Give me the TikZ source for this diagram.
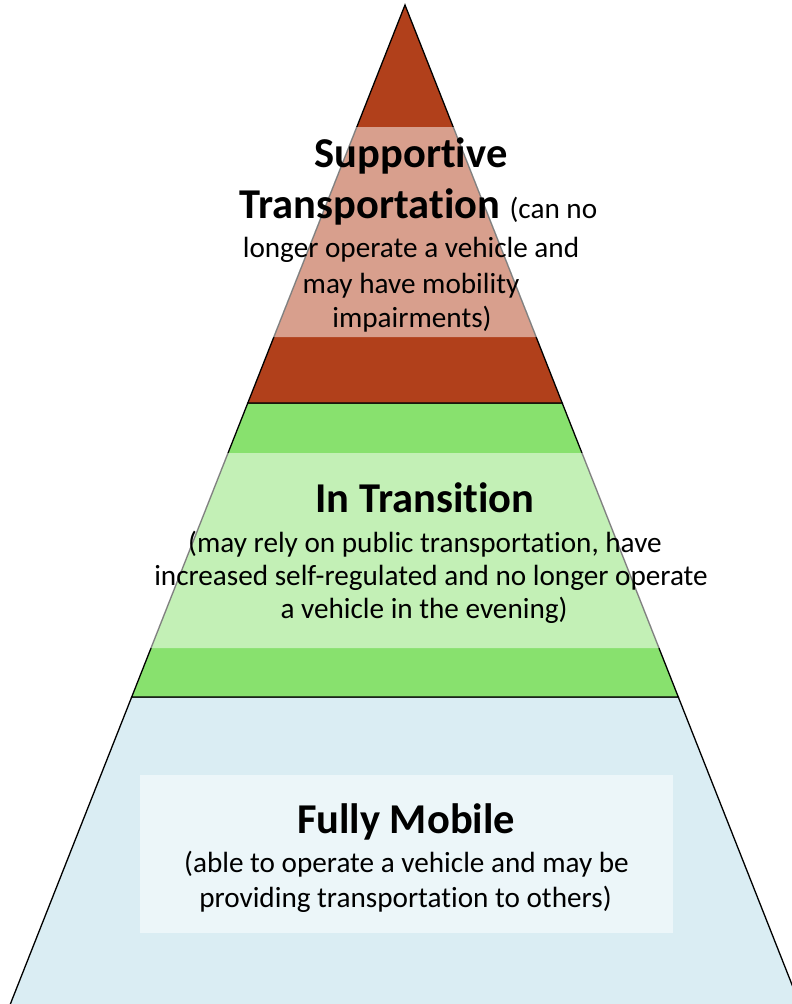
\documentclass[tikz,border=0pt]{standalone}
\usepackage{fontspec}
\setmainfont{Carlito}[Ligatures=NoCommon]
\definecolor{rusttier}{HTML}{B1401B}
\definecolor{greentier}{HTML}{88E16E}
\definecolor{bluetier}{HTML}{DAEDF3}
\begin{document}
\begin{tikzpicture}[x=1pt,y=-1pt,
  tier/.style={draw=black, line width=1.3pt, line join=miter},
  haze/.style={fill=white, fill opacity=0.5},
  head/.style={font=\fontsize{42.5}{50}\selectfont\bfseries, inner sep=0pt, anchor=base},
  body/.style={font=\fontsize{29.2}{35}\selectfont, inner sep=0pt, anchor=base}]
\useasboundingbox (0,0) rectangle (792,1004);
\clip (0,0) rectangle (792,1004);

% three tiers of the pyramid (apex at 405,5)
\path[tier, fill=bluetier]  (131.7,697) -- (678.3,697) -- (802.8,1012) -- (7.2,1012) -- cycle;
\path[tier, fill=greentier] (247.8,403) -- (562.2,403) -- (678.3,697) -- (131.7,697) -- cycle;
\path[tier, fill=rusttier]  (405,5) -- (562.2,403) -- (247.8,403) -- cycle;

% lighter text bands laid over the tiers
\fill[haze] (355.8,127) -- (454.2,127) -- (537.1,337) -- (272.9,337) -- cycle;
\fill[haze] (227,453) -- (583,453) -- (660,648) -- (150,648) -- cycle;
\fill[haze] (140,775) rectangle (673,933);

% top tier text
\node[head] (sup1) at (411,167) {Supportive};
\node[inner sep=0pt, anchor=base] (sup2) at (418.5,218)
  {\fontsize{42.5}{50}\selectfont\bfseries Transportation \fontsize{29.2}{35}\selectfont\mdseries(can no};
\node[body] (sup3) at (411,257) {longer operate a vehicle and};
\node[body] (sup4) at (411,293) {may have mobility};
\node[body] (sup5) at (412,327) {impairments)};

% middle tier text
\node[head] (tr1) at (425,512) {In Transition};
\node[body] (tr2) at (425,552) {(may rely on public transportation, have};
\node[body] (tr3) at (431,585) {increased self-regulated and no longer operate};
\node[body] (tr4) at (424,618) {a vehicle in the evening)};

% bottom tier text
\node[head] (fm1) at (406,833) {Fully Mobile};
\node[body] (fm2) at (406.5,872) {(able to operate a vehicle and may be};
\node[body] (fm3) at (405.5,907) {providing transportation to others)};
\end{tikzpicture}
\end{document}
